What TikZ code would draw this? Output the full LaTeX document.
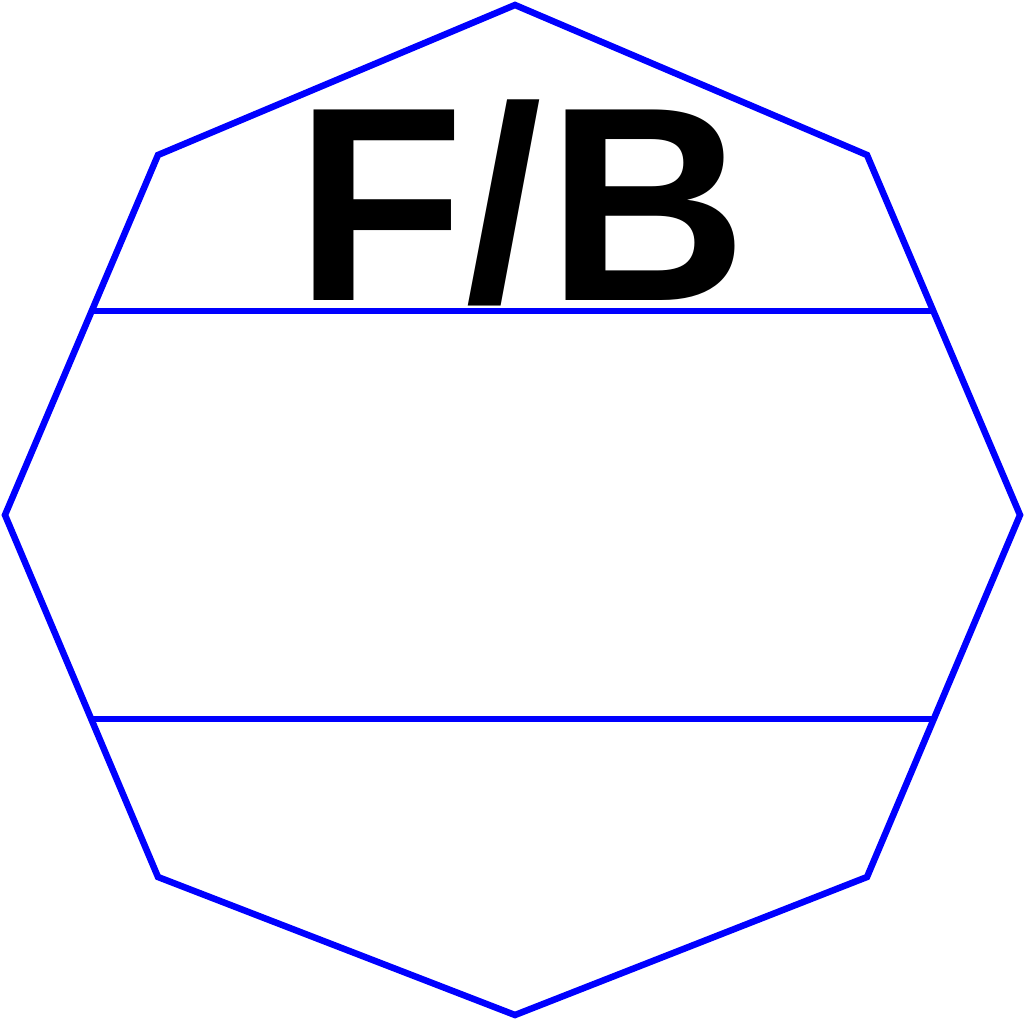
\documentclass[tikz,border=0pt]{standalone}
\usepackage{fontspec}
\setmainfont{Liberation Sans}
\usetikzlibrary{calc}
\definecolor{octblue}{RGB}{0,0,255}
\tikzset{edge/.style={draw=octblue,line width=6.5pt,line join=miter}}
\begin{document}
\begin{tikzpicture}[x=1pt,y=-1pt]
\useasboundingbox (0,0) rectangle (1024,1020);
\coordinate (t) at (515,5);
\coordinate (ur) at (867,155);
\coordinate (r) at (1020,515);
\coordinate (lr) at (867,877);
\coordinate (b) at (515,1015);
\coordinate (ll) at (158,877);
\coordinate (l) at (5,515);
\coordinate (ul) at (158,155);
\draw[edge] (t) -- (ur) -- (r) -- (lr) -- (b) -- (ll) -- (l) -- (ul) -- cycle;
\coordinate (a1) at ($(ul)!0.433!(l)$);
\coordinate (a2) at ($(ur)!0.433!(r)$);
\coordinate (b1) at ($(l)!0.5635!(ll)$);
\coordinate (b2) at ($(r)!0.5635!(lr)$);
\draw[edge] (a1) -- (a2);
\draw[edge] (b1) -- (b2);
\node[anchor=base,inner sep=0pt,font=\fontsize{277}{300}\selectfont\bfseries] (fb) at (521.5,300) {F/\kern5pt B};
\end{tikzpicture}
\end{document}
